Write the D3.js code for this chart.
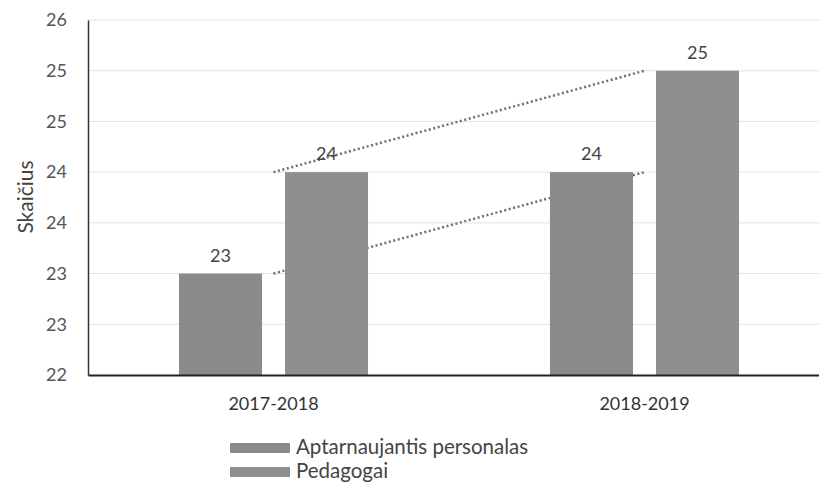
<!DOCTYPE html>
<html>
<head>
<meta charset="utf-8">
<script src="https://cdn.jsdelivr.net/npm/d3@7"></script>
<style>
html,body{margin:0;padding:0;background:#fff;}
svg{display:block;}
text{font-family:Lato,"Open Sans",sans-serif;}
</style>
</head>
<body>
<svg id="chart" width="819" height="484"></svg>
<script>
const categories = ["2017-2018", "2018-2019"];
const seriesNames = ["Aptarnaujantis personalas", "Pedagogai"];
const aptarnaujantis = [23, 24];
const pedagogai = [24, 25];
const tickValues = [22, 22.5, 23, 23.5, 24, 24.5, 25, 25.5];
const tickLabels = ["22", "23", "23", "24", "24", "25", "25", "26"];
const yTitle = "Skaičius";

(function () {
const seriesValues = [aptarnaujantis, pedagogai];
const colors = ["#8a8a8a", "#8f8f8f"];

const svg = d3.select("#chart");
const mLeft = 88, mRight = 830, mTop = 20, mBottom = 375;

const x0 = d3.scaleBand().domain(categories).range([mLeft, mRight]).paddingInner(0).paddingOuter(0);
const x1 = d3.scaleBand().domain(seriesNames).range([0, x0.bandwidth()]).paddingInner(0.217).paddingOuter(0.858);
const y = d3.scaleLinear().domain([22, 25.5]).range([mBottom, mTop]);

// gridlines
svg.append("g").selectAll("line").data(tickValues.slice(1)).join("line")
  .attr("x1", mLeft).attr("x2", 819)
  .attr("y1", d => y(d)).attr("y2", d => y(d))
  .attr("stroke", "#e2e2e2").attr("stroke-width", 1);

// series lines (behind bars)
seriesValues.forEach((vals, si) => {
  const pts = categories.map((c, i) => [x0(c) + x0.bandwidth() / 2, y(vals[i])]);
  svg.append("path")
    .attr("d", d3.line()(pts))
    .attr("fill", "none")
    .attr("stroke", "#6e6e6e")
    .attr("stroke-width", 2.5)
    .attr("stroke-dasharray", "2,2.6");
});

// bars
categories.forEach((c, ci) => {
  seriesNames.forEach((s, si) => {
    const v = seriesValues[si][ci];
    const bx = x0(c) + x1(s);
    svg.append("rect")
      .attr("x", bx).attr("y", y(v))
      .attr("width", x1.bandwidth()).attr("height", y(22) - y(v))
      .attr("fill", colors[si]);
    svg.append("text")
      .attr("x", bx + x1.bandwidth() / 2).attr("y", y(v) - 12)
      .attr("text-anchor", "middle")
      .attr("font-size", 18).attr("fill", "#444")
      .text(v);
  });
});

// y axis
const yAxis = d3.axisLeft(y).tickValues(tickValues).tickSize(0).tickPadding(21)
  .tickFormat((d, i) => tickLabels[i]);
const gy = svg.append("g").attr("transform", `translate(${mLeft},0)`).call(yAxis);
gy.select(".domain").attr("stroke", "#333").attr("stroke-width", 1.5);
gy.selectAll("text").attr("font-size", 18).attr("fill", "#555").attr("font-family", "Lato,sans-serif");

// x axis
const xAxis = d3.axisBottom(x0).tickSize(0).tickPadding(22);
const gx = svg.append("g").attr("transform", `translate(0,${mBottom})`).call(xAxis);
gx.select(".domain").attr("stroke", "#222").attr("stroke-width", 2);
gx.selectAll("text").attr("font-size", 18).attr("fill", "#333").attr("font-family", "Lato,sans-serif");

// y title
svg.append("text")
  .attr("transform", "translate(33,197) rotate(-90)")
  .attr("text-anchor", "middle")
  .attr("font-size", 21).attr("fill", "#444")
  .text(yTitle);

// legend
const legend = svg.append("g");
seriesNames.forEach((s, i) => {
  const ly = 443 + i * 24;
  legend.append("rect").attr("x", 230).attr("y", ly).attr("width", 60).attr("height", 10).attr("fill", colors[i]);
  legend.append("text").attr("x", 296).attr("y", ly + 11)
    .attr("font-size", 20.5).attr("fill", "#444").text(s);
});
})();
</script>
</body>
</html>
